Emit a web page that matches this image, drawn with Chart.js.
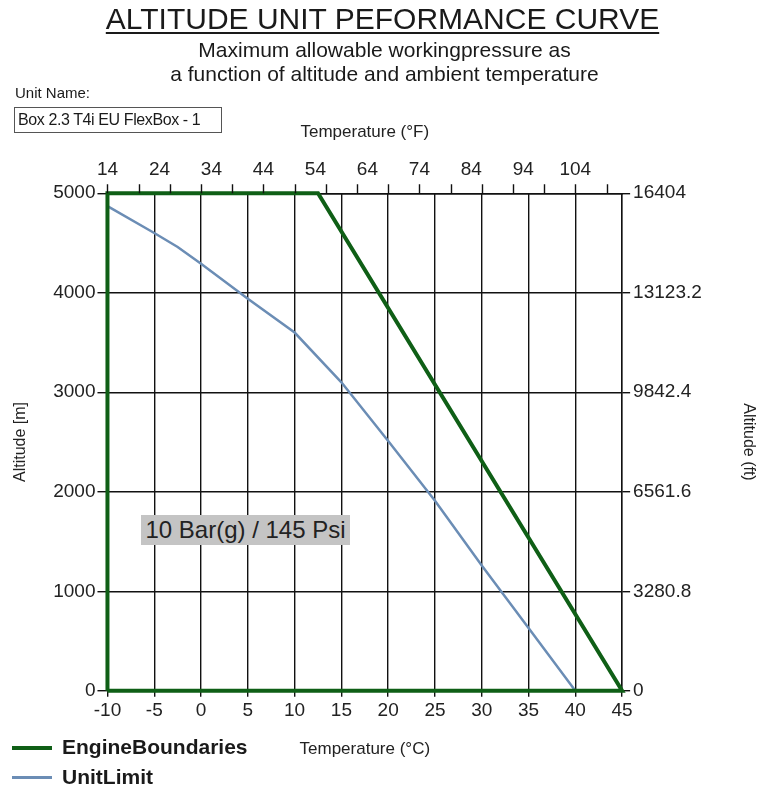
<!DOCTYPE html>
<html>
<head>
<meta charset="utf-8">
<script src="https://cdn.jsdelivr.net/npm/chart.js@4.4.1/dist/chart.umd.min.js"></script>
<style>
  body { margin: 0; background: #fff; font-family: "Liberation Sans", Arial, sans-serif; color: #1a1a1a; }
  #wrap { position: relative; width: 761px; height: 792px; overflow: hidden; }
  #chart { position: absolute; left: 0; top: 0; }
  .t { position: absolute; white-space: nowrap; }
  #title { left: 2px; width: 761px; top: 2px; text-align: center; font-size: 30px; text-decoration: underline; text-decoration-thickness: 2px; text-underline-offset: 3px; }
  #sub { left: 4px; width: 761px; top: 38px; text-align: center; font-size: 21px; line-height: 24px; }
  #unitLbl { left: 15px; top: 84px; font-size: 15px; }
  #unitBox { left: 14px; top: 107px; width: 203px; height: 24px; border: 1px solid #555; font-size: 16px; line-height: 24px; padding-left: 3px; box-sizing: content-box; letter-spacing: -0.4px; }
  #note { left: 141px; top: 515px; width: 209px; height: 30px; background: #c4c4c4; text-align: center; font-size: 24px; line-height: 30px; color: #222; }
  .lg { position: absolute; left: 12px; width: 40px; }
  .lgt { left: 62px; font-size: 21px; font-weight: bold; }
</style>
</head>
<body>
<div id="wrap">
  <canvas id="chart" width="761" height="792"></canvas>
  <div class="t" id="title">ALTITUDE UNIT PEFORMANCE CURVE</div>
  <div class="t" id="sub">Maximum allowable workingpressure as<br>a function of altitude and ambient temperature</div>
  <div class="t" id="unitLbl">Unit Name:</div>
  <div class="t" id="unitBox">Box 2.3 T4i EU FlexBox - 1</div>
  <div class="t" id="note">10 Bar(g) / 145 Psi</div>
  <div class="lg" style="top:746px;height:4px;background:#0f5f16"></div>
  <div class="t lgt" style="top:735px">EngineBoundaries</div>
  <div class="lg" style="top:776px;height:3px;background:#6b8db5"></div>
  <div class="t lgt" style="top:765px">UnitLimit</div>
</div>
<script>
// values
const engineTemp = [-10, -10, 12.5, 45, -10];
const engineAlt = [0, 5000, 5000, 0, 0];
const unitTemp = [-10, -5, -2.5, 0, 5, 10, 15, 20, 25, 30, 35, 40];
const unitAlt = [4870, 4600, 4460, 4290, 3940, 3600, 3100, 2510, 1910, 1260, 630, 0];

const celsiusTicks = [-10, -5, 0, 5, 10, 15, 20, 25, 30, 35, 40, 45];
const fahrenheitTicks = [14, 24, 34, 44, 54, 64, 74, 84, 94, 104];
const meterTicks = [0, 1000, 2000, 3000, 4000, 5000];
const feetTicks = [0, 3280.8, 6561.6, 9842.4, 13123.2, 16404];

const green = '#0f5f16';
const blue = '#6b8db5';
const ink = '#111';

Chart.defaults.font.family = '"Liberation Sans", Arial, sans-serif';
Chart.defaults.color = '#222';

function setTicks(list) {
  return function (axis) { axis.ticks = list.map(v => ({ value: v })); };
}

// the top axis has its small marks every 6 F, not at the labels
const topMarks = {
  id: 'topMarks',
  afterDraw(chart) {
    const s = chart.scales.xF;
    const top = chart.chartArea.top;
    const c = chart.ctx;
    c.save();
    c.strokeStyle = ink;
    c.lineWidth = 1.4;
    c.beginPath();
    for (let f = 14; f <= 110; f += 6) {
      const px = Math.round(s.getPixelForValue(f)) + 0.5;
      c.moveTo(px, top);
      c.lineTo(px, top - 9);
    }
    c.stroke();
    c.restore();
  }
};

const ctx = document.getElementById('chart').getContext('2d');
new Chart(ctx, {
  type: 'scatter',
  data: {
    datasets: [{
      label: 'EngineBoundaries',
      data: engineTemp.map((t, i) => ({ x: t, y: engineAlt[i] })),
      showLine: true,
      borderColor: green,
      backgroundColor: green,
      borderWidth: 4,
      pointRadius: 0,
      clip: false,
      xAxisID: 'x',
      yAxisID: 'y'
    }, {
      label: 'UnitLimit',
      data: unitTemp.map((t, i) => ({ x: t, y: unitAlt[i] })),
      showLine: true,
      borderColor: blue,
      backgroundColor: blue,
      borderWidth: 2.5,
      pointRadius: 0,
      clip: false,
      xAxisID: 'x',
      yAxisID: 'y'
    }]
  },
  options: {
    responsive: false,
    animation: false,
    layout: { padding: { top: 122, left: 0, right: 0, bottom: 32 } },
    plugins: { legend: { display: false }, tooltip: { enabled: false } },
    scales: {
      x: {
        type: 'linear', position: 'bottom', min: -10, max: 45,
        afterBuildTicks: setTicks(celsiusTicks),
        grid: { color: ink, lineWidth: 1.4, tickLength: 6 },
        border: { color: ink, width: 1.4 },
        ticks: { font: { size: 19 }, padding: 3, callback: v => String(v) },
        title: { display: true, text: 'Temperature (°C)', font: { size: 17 }, padding: { top: 14, bottom: 0 } }
      },
      xF: {
        type: 'linear', position: 'top', min: 14, max: 113,
        afterBuildTicks: setTicks(fahrenheitTicks),
        grid: { drawOnChartArea: false, color: 'rgba(0,0,0,0)', tickLength: 9 },
        border: { color: ink, width: 1.4 },
        ticks: { font: { size: 19 }, padding: 3, callback: v => String(v) },
        title: { display: true, text: 'Temperature (°F)', font: { size: 17 }, padding: { top: 0, bottom: 13 } }
      },
      y: {
        type: 'linear', position: 'left', min: 0, max: 5000,
        afterBuildTicks: setTicks(meterTicks),
        grid: { color: ink, lineWidth: 1.4, tickLength: 10 },
        border: { color: ink, width: 1.4 },
        ticks: { font: { size: 19 }, padding: 2, callback: v => String(v) },
        title: { display: true, text: 'Altitude [m]', font: { size: 16 }, padding: { top: 11, bottom: 21 } }
      },
      yF: {
        type: 'linear', position: 'right', min: 0, max: 16404,
        afterBuildTicks: setTicks(feetTicks),
        grid: { drawOnChartArea: false, color: ink, lineWidth: 1.4, tickLength: 8 },
        border: { color: ink, width: 1.4 },
        ticks: { font: { size: 19 }, padding: 3, callback: v => String(v) },
        title: { display: true, text: 'Altitude (ft)', font: { size: 16 }, padding: { top: 3, bottom: 34 } }
      }
    }
  },
  plugins: [topMarks]
});
</script>
</body>
</html>
